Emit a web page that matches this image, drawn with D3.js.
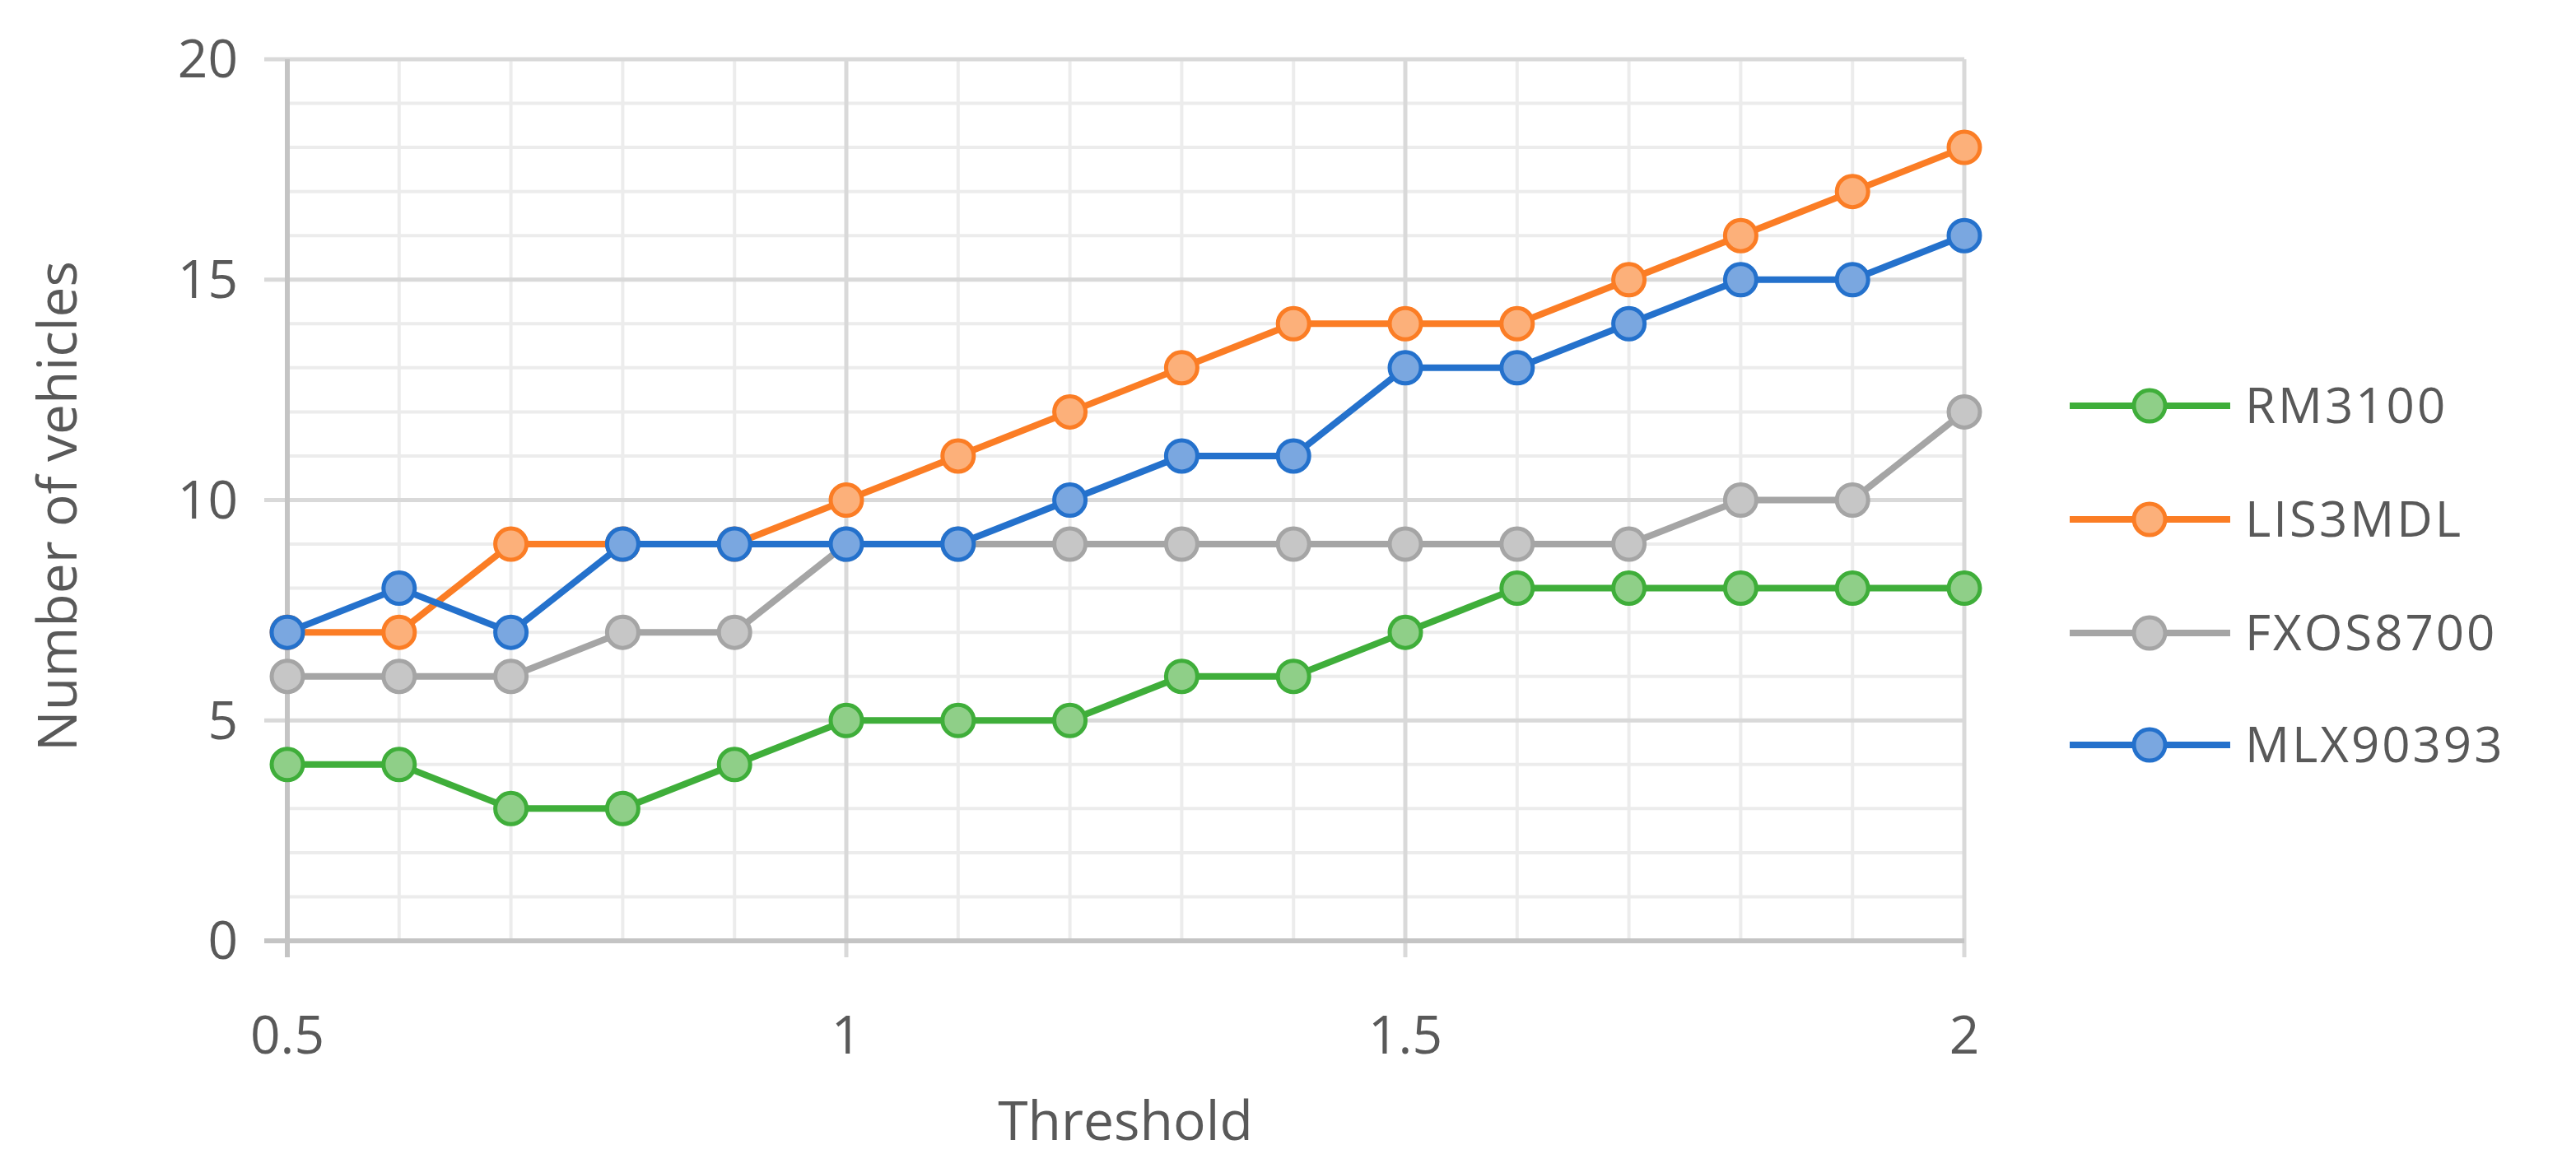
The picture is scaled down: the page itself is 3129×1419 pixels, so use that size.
<!DOCTYPE html>
<html><head><meta charset="utf-8">
<script src="https://cdn.jsdelivr.net/npm/d3@7"></script>
<style>body{margin:0;background:#fff}</style></head>
<body><svg id="c" width="3129" height="1419"></svg>
<script>
const thresholds=[0.5,0.6,0.7,0.8,0.9,1.0,1.1,1.2,1.3,1.4,1.5,1.6,1.7,1.8,1.9,2.0];
const rm3100=[4,4,3,3,4,5,5,5,6,6,7,8,8,8,8,8];
const lis3mdl=[7,7,9,9,9,10,11,12,13,14,14,14,15,16,17,18];
const fxos8700=[6,6,6,7,7,9,9,9,9,9,9,9,9,10,10,12];
const mlx90393=[7,8,7,9,9,9,9,10,11,11,13,13,14,15,15,16];
const seriesNames=["RM3100","LIS3MDL","FXOS8700","MLX90393"];
const xTicks=[0.5,1,1.5,2];
const yTicks=[0,5,10,15,20];

const colors=["#3fae3a","#fb7d25","#a5a5a5","#2471cc"];
const fills=["#8fcf88","#fcb07a","#c6c6c6","#7aa7e0"];
const data=[rm3100,lis3mdl,fxos8700,mlx90393];
const svg=d3.select("#c");
const L=349,R=2386,T=72,B=1143;
const x=d3.scaleLinear().domain([0.5,2]).range([L,R]);
const y=d3.scaleLinear().domain([0,20]).range([B,T]);
const font="'Open Sans',sans-serif", tc="#595959";
const g=svg.append("g");
// minor grid
g.selectAll(".vm").data(d3.range(0.5,2.001,0.1)).join("line").attr("x1",d=>x(d)).attr("x2",d=>x(d)).attr("y1",T).attr("y2",B).attr("stroke","#ececec").attr("stroke-width",4);
g.selectAll(".hm").data(d3.range(0,21,1)).join("line").attr("y1",d=>y(d)).attr("y2",d=>y(d)).attr("x1",L).attr("x2",R).attr("stroke","#ececec").attr("stroke-width",4);
// major grid
g.selectAll(".vM").data(xTicks).join("line").attr("x1",d=>x(d)).attr("x2",d=>x(d)).attr("y1",T).attr("y2",B+20).attr("stroke","#d9d9d9").attr("stroke-width",5);
g.selectAll(".hM").data(yTicks).join("line").attr("y1",d=>y(d)).attr("y2",d=>y(d)).attr("x1",L-28).attr("x2",R).attr("stroke","#d9d9d9").attr("stroke-width",5);
// axes
g.append("line").attr("x1",L).attr("x2",L).attr("y1",T).attr("y2",B+20).attr("stroke","#c4c4c4").attr("stroke-width",6);
g.append("line").attr("x1",L-28).attr("x2",R).attr("y1",B).attr("y2",B).attr("stroke","#c4c4c4").attr("stroke-width",6);
// tick labels
g.selectAll(".yl").data(yTicks).join("text").attr("x",L-60).attr("y",d=>y(d)).attr("dy","0.35em").attr("text-anchor","end").attr("font-family",font).attr("font-size",64).attr("fill",tc).text(d=>d);
g.selectAll(".xl").data(xTicks).join("text").attr("x",d=>x(d)).attr("y",1258).attr("dy","0.35em").attr("text-anchor","middle").attr("font-family",font).attr("font-size",64).attr("fill",tc).text(d=>d);
g.append("text").attr("x",1367).attr("y",1362).attr("dy","0.35em").attr("text-anchor","middle").attr("font-family",font).attr("font-size",66).attr("fill",tc).text("Threshold");
g.append("text").attr("transform","translate(70,615) rotate(-90)").attr("dy","0.35em").attr("text-anchor","middle").attr("font-family",font).attr("font-size",66).attr("fill",tc).text("Number of vehicles");
// series
const line=d3.line().x((d,i)=>x(thresholds[i])).y(d=>y(d));
data.forEach((s,k)=>{
  g.append("path").datum(s).attr("d",line).attr("fill","none").attr("stroke",colors[k]).attr("stroke-width",8).attr("stroke-linejoin","round");
  g.selectAll(null).data(s).join("circle").attr("cx",(d,i)=>x(thresholds[i])).attr("cy",d=>y(d)).attr("r",19).attr("fill",fills[k]).attr("stroke",colors[k]).attr("stroke-width",5);
});
// legend
const ly=[493,631,769,905];
seriesNames.forEach((n,k)=>{
  g.append("line").attr("x1",2514).attr("x2",2709).attr("y1",ly[k]).attr("y2",ly[k]).attr("stroke",colors[k]).attr("stroke-width",8);
  g.append("circle").attr("cx",2611).attr("cy",ly[k]).attr("r",19).attr("fill",fills[k]).attr("stroke",colors[k]).attr("stroke-width",5);
  g.append("text").attr("x",2727).attr("y",ly[k]).attr("dy","0.35em").attr("font-family",font).attr("font-size",60).attr("letter-spacing",3).attr("fill",tc).text(n);
});
</script></body></html>
